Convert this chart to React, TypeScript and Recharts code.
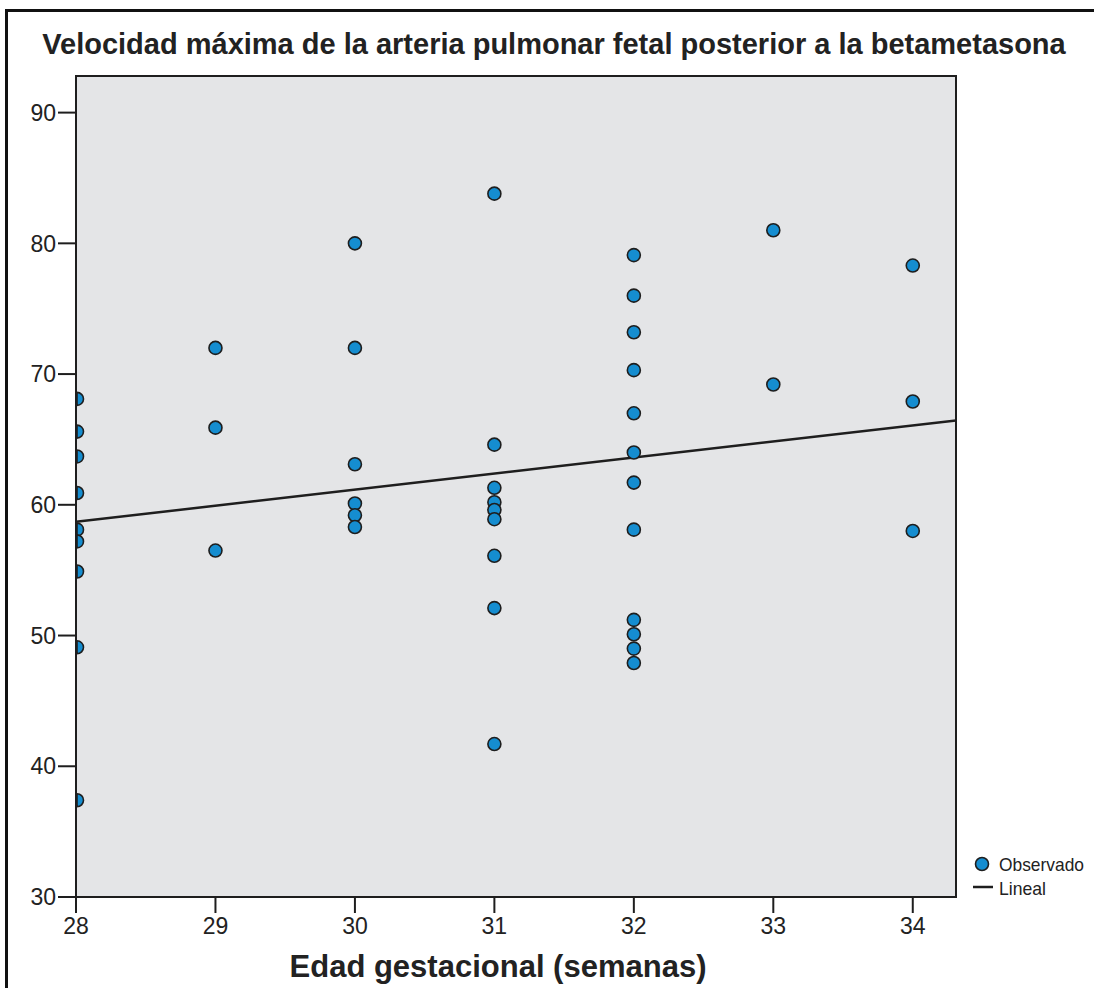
import {
  ComposedChart,
  Scatter,
  Line,
  XAxis,
  YAxis,
  CartesianGrid,
  ReferenceArea,
  Legend,
  Label,
} from "recharts";

const FONT = "'Liberation Sans', Arial, Helvetica, sans-serif";
const INK = "#1e1e1e";
const DOT = "#158dd0";

// gestational age (weeks) and the observed peak velocities at each week
const weeks = [28, 29, 30, 31, 32, 33, 34];
const velocity28 = [68.1, 65.6, 63.7, 60.9, 58.1, 57.2, 54.9, 49.1, 37.4];
const velocity29 = [72.0, 65.9, 56.5];
const velocity30 = [80.0, 72.0, 63.1, 60.1, 59.2, 58.3];
const velocity31 = [83.8, 64.6, 61.3, 60.2, 59.6, 58.9, 56.1, 52.1, 41.7];
const velocity32 = [79.1, 76.0, 73.2, 70.3, 67.0, 64.0, 61.7, 58.1, 51.2, 50.1, 49.0, 47.9];
const velocity33 = [81.0, 69.2];
const velocity34 = [78.3, 67.9, 58.0];
const velocityByWeek = [velocity28, velocity29, velocity30, velocity31, velocity32, velocity33, velocity34];

// linear fit, read at both ends of the plot
const fitWeeks = [28, 34.31];
const fitVelocity = [58.7, 66.45];

const xTicks = [28, 29, 30, 31, 32, 33, 34];
const yTicks = [30, 40, 50, 60, 70, 80, 90];
const xDomain = [28, 34.31];
const yDomain = [30, 92.8];

const observed = weeks.flatMap((w, i) => velocityByWeek[i].map((v) => ({ x: w, y: v })));
// points on the left edge get cut by the plot frame, like in the original
const edgePoints = observed.filter((p) => p.x <= xDomain[0]);
const innerPoints = observed.filter((p) => p.x > xDomain[0]);
const fitLine = fitWeeks.map((w, i) => ({ x: w, y: fitVelocity[i] }));

const R = 6.5;

const renderDot = (props: { cx?: number; cy?: number }) => {
  const { cx, cy } = props;
  if (cx == null || cy == null) return <g />;
  return <circle cx={cx} cy={cy} r={R} fill={DOT} stroke={INK} strokeWidth={1.6} />;
};

// right half only: the plot frame hides the rest
const renderHalfDot = (props: { cx?: number; cy?: number }) => {
  const { cx, cy } = props;
  if (cx == null || cy == null) return <g />;
  return (
    <path
      d={`M${cx + 1},${cy - R} A${R},${R} 0 0 1 ${cx + 1},${cy + R} Z`}
      fill={DOT}
      stroke={INK}
      strokeWidth={1.6}
    />
  );
};

const LegendBox = () => (
  <svg width={120} height={50} style={{ overflow: "visible" }}>
    <circle cx={8} cy={10} r={R} fill={DOT} stroke={INK} strokeWidth={1.6} />
    <text x={25} y={17} fontSize={19} fontFamily={FONT} fill="#222" textLength={85} lengthAdjust="spacingAndGlyphs">
      Observado
    </text>
    <line x1={-1} x2={19} y1={33} y2={33} stroke={INK} strokeWidth={2.5} />
    <text x={25} y={41} fontSize={19} fontFamily={FONT} fill="#222" textLength={47} lengthAdjust="spacingAndGlyphs">
      Lineal
    </text>
  </svg>
);

export default function App() {
  return (
    <div
      style={{
        position: "fixed",
        left: 0,
        top: 0,
        width: 1094,
        height: 988,
        background: "#fff",
        overflow: "hidden",
        fontFamily: FONT,
      }}
    >
      <div
        style={{
          position: "absolute",
          left: 5,
          top: 9,
          width: 1120,
          height: 1010,
          border: "3px solid #111",
          boxSizing: "border-box",
        }}
      />
      <div
        style={{
          position: "absolute",
          left: 0,
          top: 30,
          width: 1108,
          textAlign: "center",
          fontSize: 29,
          lineHeight: "29px",
          fontWeight: "bold",
          color: "#222",
          whiteSpace: "nowrap",
        }}
      >
        Velocidad máxima de la arteria pulmonar fetal posterior a la betametasona
      </div>
      <div style={{ position: "absolute", left: 0, top: 0 }}>
        <ComposedChart width={1094} height={988} margin={{ top: 76, right: 138, bottom: 0, left: 0 }}>
          <CartesianGrid fill="#e4e5e7" horizontal={false} vertical={false} />
          <XAxis
            type="number"
            dataKey="x"
            domain={xDomain}
            ticks={xTicks}
            allowDataOverflow
            height={91}
            tickSize={16}
            tickMargin={5}
            tick={{ fill: "#222", fontSize: 23, fontFamily: FONT }}
            tickLine={{ stroke: INK, strokeWidth: 2 }}
            axisLine={{ stroke: INK, strokeWidth: 2 }}
          >
            <Label
              value="Edad gestacional (semanas)"
              position="insideBottom"
              offset={11}
              dx={-18}
              style={{ fontSize: 31, fontWeight: "bold", fill: "#222", fontFamily: FONT }}
            />
          </XAxis>
          <YAxis
            type="number"
            dataKey="y"
            domain={yDomain}
            ticks={yTicks}
            allowDataOverflow
            width={76}
            tickSize={18}
            tickMargin={2}
            tick={{ fill: "#222", fontSize: 23, fontFamily: FONT }}
            tickLine={{ stroke: INK, strokeWidth: 2 }}
            axisLine={{ stroke: INK, strokeWidth: 2 }}
          />
          <Line
            data={fitLine}
            dataKey="y"
            type="linear"
            stroke={INK}
            strokeWidth={2.5}
            dot={false}
            activeDot={false}
            isAnimationActive={false}
            legendType="none"
          />
          <Scatter data={innerPoints} dataKey="y" shape={renderDot} isAnimationActive={false} name="Observado" />
          <Scatter
            data={edgePoints}
            dataKey="y"
            shape={renderHalfDot}
            isAnimationActive={false}
            name="Observado borde"
            legendType="none"
          />
          <ReferenceArea
            x1={xDomain[0]}
            x2={xDomain[1]}
            y1={yDomain[0]}
            y2={yDomain[1]}
            fill="none"
            stroke={INK}
            strokeWidth={2}
            ifOverflow="visible"
          />
          <Legend
            layout="vertical"
            align="center"
            verticalAlign="middle"
            content={<LegendBox />}
            wrapperStyle={{ left: 974, top: 854, width: 120, height: 50 }}
          />
        </ComposedChart>
      </div>
    </div>
  );
}
